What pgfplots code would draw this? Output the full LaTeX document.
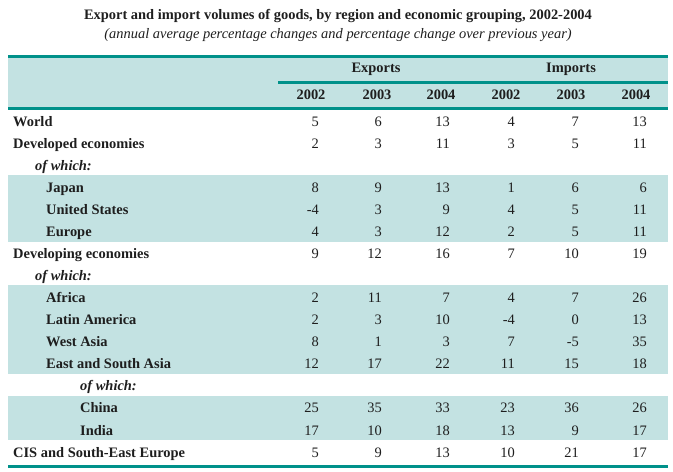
\documentclass[border=0pt]{standalone}
\usepackage{pgfplots}
\usepackage{pgfplotstable}
\pgfplotsset{compat=1.18}
\usepackage{fontspec}
\setmainfont{Liberation Serif}
\definecolor{tealline}{RGB}{0,145,138}
\definecolor{band}{RGB}{195,226,226}
\definecolor{ink}{RGB}{30,30,30}
\newcommand\bodyfont{\fontsize{14.5}{17}\selectfont}

\pgfplotstableread{
y     e02 e03 e04 i02 i03 i04
126.0   5  6 13  4  7 13
148.1   2  3 11  3  5 11
192.2   8  9 13  1  6  6
214.3  -4  3  9  4  5 11
236.4   4  3 12  2  5 11
258.4   9 12 16  7 10 19
302.6   2 11  7  4  7 26
324.6   2  3 10 -4  0 13
346.7   8  1  3  7 -5 35
368.8  12 17 22 11 15 18
412.9  25 35 33 23 36 26
435.0  17 10 18 13  9 17
457.0   5  9 13 10 21 17
}\numbers

\pgfplotstableread[col sep=comma]{
x,y,label
13,126.0,World
13,148.1,Developed economies
46,192.2,Japan
46,214.3,United States
46,236.4,Europe
13,258.4,Developing economies
46,302.6,Africa
46,324.6,Latin America
46,346.7,West Asia
46,368.8,East and South Asia
80,412.9,China
80,435.0,India
13,457.0,CIS and South-East Europe
}\boldlabels

\pgfplotstableread[col sep=comma]{
x,y,label
35,170.1,of which:
35,280.5,of which:
80,390.8,of which:
}\italiclabels

\pgfplotstableread[col sep=comma]{
x,y,label
311,99,2002
377,99,2003
441,99,2004
506,99,2002
571,99,2003
636,99,2004
376,73,Exports
571,73,Imports
}\headers

\pgfplotsset{
  txt/.style={draw=none, mark=none, nodes near coords, point meta=explicit symbolic,
    every node near coord/.append style={inner sep=0pt, text=ink, font={\bodyfont#1}}},
}

\begin{document}
\begin{tikzpicture}
\begin{axis}[scale only axis, width=673bp, height=472bp,
  xmin=0, xmax=673, ymin=0, ymax=472, y dir=reverse,
  axis lines=none, clip=false]
\addplot[draw=none, mark=none] coordinates {(0,0)(673,472)};
% shaded bands
\addplot[fill=band, draw=none] coordinates {(8,58)(668,58)(668,107)(8,107)} -- cycle;
\addplot[fill=band, draw=none] coordinates {(8,175)(668,175)(668,242)(8,242)} -- cycle;
\addplot[fill=band, draw=none] coordinates {(8,285)(668,285)(668,374)(8,374)} -- cycle;
\addplot[fill=band, draw=none] coordinates {(8,396)(668,396)(668,440)(8,440)} -- cycle;
% rules
\addplot[tealline, line width=3bp] coordinates {(8,56.5)(668,56.5)};
\addplot[tealline, line width=2.6bp] coordinates {(278,82.3)(668,82.3)};
\addplot[tealline, line width=3bp] coordinates {(8,108.5)(668,108.5)};
\addplot[tealline, line width=3.5bp] coordinates {(8,466.5)(668,466.5)};
% texts
\addplot[txt={\bfseries}, every node near coord/.append style={anchor=base}] table[x=x, y=y, meta=label] {\headers};
\addplot[txt={\bfseries}, every node near coord/.append style={anchor=base west}] table[x=x, y=y, meta=label] {\boldlabels};
\addplot[txt={\bfseries\itshape}, every node near coord/.append style={anchor=base west}] table[x=x, y=y, meta=label] {\italiclabels};
\addplot[txt={}, every node near coord/.append style={anchor=base east}] table[x expr=319, y=y, meta=e02] {\numbers};
\addplot[txt={}, every node near coord/.append style={anchor=base east}] table[x expr=382, y=y, meta=e03] {\numbers};
\addplot[txt={}, every node near coord/.append style={anchor=base east}] table[x expr=450, y=y, meta=e04] {\numbers};
\addplot[txt={}, every node near coord/.append style={anchor=base east}] table[x expr=515, y=y, meta=i02] {\numbers};
\addplot[txt={}, every node near coord/.append style={anchor=base east}] table[x expr=579, y=y, meta=i03] {\numbers};
\addplot[txt={}, every node near coord/.append style={anchor=base east}] table[x expr=647, y=y, meta=i04] {\numbers};
% title
\node[anchor=base, inner sep=0pt, text=ink, font={\bodyfont\bfseries}] at (axis cs:338,19.5) {Export and import volumes of goods, by region and economic grouping, 2002-2004};
\node[anchor=base, inner sep=0pt, text=ink, font={\bodyfont\itshape}] at (axis cs:338,38.5) {(annual average percentage changes and percentage change over previous year)};
\end{axis}
\end{tikzpicture}
\end{document}
